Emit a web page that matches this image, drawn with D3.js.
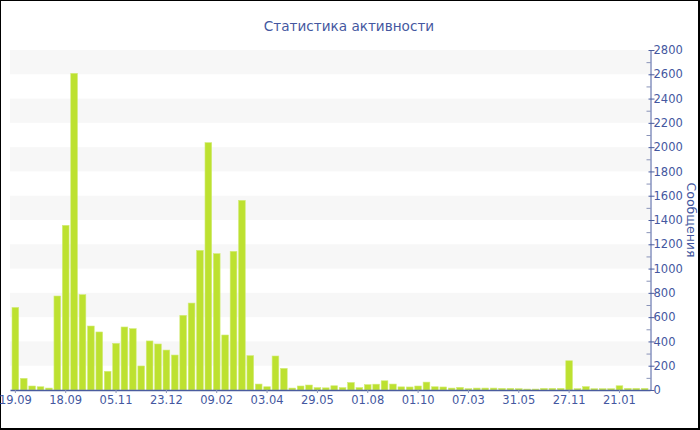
<!DOCTYPE html>
<html>
<head>
<meta charset="utf-8">
<script src="https://cdn.jsdelivr.net/npm/d3@7"></script>
<style>
  html, body { margin: 0; padding: 0; background: #fff; }
  svg { display: block; }
  text { font-family: "DejaVu Sans", Verdana, sans-serif; }
</style>
</head>
<body>
<svg id="chart" width="700" height="430"></svg>
<script>
const title = "Статистика активности";
const yTitle = "Сообщения";
const values = [680, 96, 33, 27, 16, 774, 1356, 2608, 785, 527, 478, 154, 384, 519, 505, 198,
  404, 379, 329, 288, 615, 716, 1150, 2037, 1123, 453, 1142, 1562, 283, 49, 27, 280, 178,
  16, 33, 41, 20, 18, 35, 20, 62, 20, 44, 48, 76, 49, 26, 25, 33, 65, 27, 25, 16, 22, 11,
  16, 16, 16, 14, 14, 11, 8, 8, 14, 14, 14, 241, 11, 28, 11, 11, 11, 35, 14, 14, 14];
const tickLabels = ["19.09", "18.09", "05.11", "23.12", "09.02", "03.04", "29.05",
  "01.08", "01.10", "07.03", "31.05", "27.11", "21.01"];
const tickEvery = 6;
const yMax = 2800;
const yMajor = d3.range(0, 2801, 200);
const yMinor = d3.range(100, 2800, 200);
const bandsFrom = d3.range(200, 2800, 400);

(function () {
const svg = d3.select("#chart");
const W = 700, H = 430;
const pL = 10, pR = 650, pT = 50, pB = 390;
const textColor = "#4457a0";
const axisColor = "#4a5c9f";

// frame
svg.append("rect").attr("x", 0).attr("y", 0).attr("width", W).attr("height", H).attr("fill", "#000");
svg.append("rect").attr("x", 1).attr("y", 1).attr("width", W - 3).attr("height", H - 3).attr("fill", "#fff");

const idx = values.map((d, i) => i);
const x = d3.scaleBand().domain(idx).range([pL, pR]).paddingInner(0.2).paddingOuter(0.24);
const y = d3.scaleLinear().domain([0, yMax]).range([pB, pT]);

// alternating bands
svg.append("g").selectAll("rect").data(bandsFrom).join("rect")
  .attr("x", pL).attr("width", pR - pL)
  .attr("y", d => y(d + 200)).attr("height", d => y(d) - y(d + 200))
  .attr("fill", "#f7f7f7");

// bars
svg.append("g").selectAll("rect").data(values).join("rect")
  .attr("x", (d, i) => x(i)).attr("width", x.bandwidth())
  .attr("y", d => y(d)).attr("height", d => y(0) - y(d))
  .attr("fill", "#bde130").attr("stroke", "#d3ec7a").attr("stroke-width", 0.6);

// x axis
const tickIdx = tickLabels.map((t, k) => k * tickEvery);
const xAxis = d3.axisBottom(x).tickValues(tickIdx)
  .tickFormat(i => tickLabels[i / tickEvery]).tickSize(3).tickSizeOuter(0);
const gx = svg.append("g").attr("transform", `translate(0,${pB})`).call(xAxis);
gx.select(".domain").attr("stroke", axisColor).attr("stroke-width", 1.5);
gx.selectAll(".tick line").attr("stroke", "#8a94b8");
gx.selectAll(".tick text").attr("fill", textColor).attr("font-size", "11.5px")
  .attr("font-family", "DejaVu Sans").attr("y", 6);

// y axis minor ticks
const yAxisMinor = d3.axisRight(y).tickValues(yMinor).tickSize(-4).tickFormat("");
const gym = svg.append("g").attr("transform", `translate(${pR + 0.5},0)`).call(yAxisMinor);
gym.select(".domain").remove();
gym.selectAll(".tick line").attr("stroke", "#8a94b8");

// y axis major
const yAxis = d3.axisRight(y).tickValues(yMajor).tickSize(4).tickSizeOuter(0).tickFormat(d3.format("d"));
const gy = svg.append("g").attr("transform", `translate(${pR + 0.5},0)`).call(yAxis);
gy.select(".domain").attr("stroke", axisColor);
gy.selectAll(".tick line").attr("stroke", axisColor).attr("x1", -2);
gy.selectAll(".tick text").attr("fill", textColor).attr("font-size", "11.5px")
  .attr("font-family", "DejaVu Sans").attr("x", 3);

// title
svg.append("text").attr("x", 349).attr("y", 31).attr("text-anchor", "middle")
  .attr("fill", textColor).attr("font-size", "13.6px").text(title);

// y title
svg.append("text").attr("transform", `translate(687,${(pT + pB) / 2}) rotate(90)`)
  .attr("text-anchor", "middle").attr("fill", textColor).attr("font-size", "12.5px").text(yTitle);
})();
</script>
</body>
</html>
